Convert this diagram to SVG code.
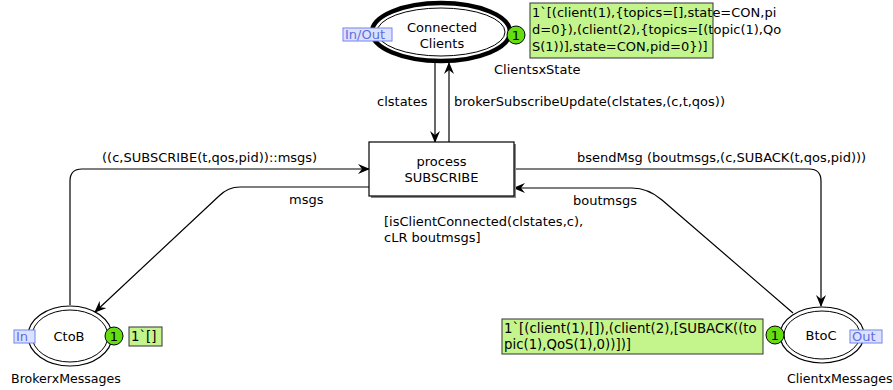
<svg xmlns="http://www.w3.org/2000/svg" width="893" height="390" viewBox="0 0 893 390">
  <defs>
    <marker id="arrow" viewBox="0 0 12 10" refX="11" refY="5" markerWidth="12" markerHeight="10" markerUnits="userSpaceOnUse" orient="auto">
      <path d="M0,0 L12,5 L0,10 L4,5 Z" fill="#000"/>
    </marker>
    <style>
      text { font-family: "DejaVu Sans", Verdana, sans-serif; font-size: 13px; fill: #000; }
      .mid { text-anchor: middle; }
      .mk { font-size: 13px; }
      .mk2 { font-size: 13.3px; }
      .pname { font-size: 12.6px; }
      .arc { fill: none; stroke: #000; stroke-width: 1.2; marker-end: url(#arrow); }
      .place { fill: #fff; stroke: #000; stroke-width: 1.2; }
      .token { fill: #66dd11; stroke: #000; stroke-width: 1; }
      .marking { fill: #c4f58c; stroke: #333; stroke-width: 1; }
      .tag { fill: #dde1ff; stroke: #6f86f0; stroke-width: 1; }
      .tagtext { fill: #5b6fe0; }
    </style>
  </defs>
  <rect width="893" height="390" fill="#fff"/>

  <!-- arcs -->
  <g id="arcs">
    <path class="arc" d="M435,63 L435,142"/>
    <path class="arc" d="M449,142 L449,63"/>
    <path class="arc" d="M70,305 L70,181 Q70,169 82,169 L369,169"/>
    <path class="arc" d="M369,187 L240,187 Q228,187 219,196 L95,312"/>
    <path class="arc" d="M514,169 L809,169 Q821,169 821,181 L821,306"/>
    <path class="arc" d="M793,313 L662,200 Q648,188 632,188 L514,188"/>
    <text x="102" y="162">((c,SUBSCRIBE(t,qos,pid))::msgs)</text>
    <text x="289" y="204">msgs</text>
    <text x="377" y="106">clstates</text>
    <text x="454" y="106">brokerSubscribeUpdate(clstates,(c,t,qos))</text>
    <text x="577" y="162">bsendMsg (boutmsgs,(c,SUBACK(t,qos,pid)))</text>
    <text x="573" y="205">boutmsgs</text>
  </g>

  <!-- transition -->
  <g id="process-subscribe">
    <rect x="371" y="144" width="145" height="54" fill="#888"/>
    <rect x="369" y="142" width="145" height="54" fill="#fff" stroke="#000" stroke-width="1.2"/>
    <text class="mid" x="441.5" y="166">process</text>
    <text class="mid" x="441.5" y="182">SUBSCRIBE</text>
    <text x="384" y="226">[isClientConnected(clstates,c),</text>
    <text x="384" y="242">cLR boutmsgs]</text>
  </g>

  <!-- place: Connected Clients -->
  <g id="connected-clients">
    <ellipse cx="441" cy="32" rx="69" ry="29" fill="#fff" stroke="#000" stroke-width="4.5"/>
    <ellipse cx="441" cy="32" rx="64" ry="24" fill="none" stroke="#000" stroke-width="1"/>
    <text class="mid" x="442" y="32">Connected</text>
    <text class="mid" x="442" y="48">Clients</text>
    <rect class="tag" x="343" y="28" width="49" height="13"/>
    <text class="tagtext" x="345" y="39">In/Out</text>
    <circle class="token" cx="516" cy="35" r="9"/>
    <text class="mid" x="516" y="39.5">1</text>
    <rect class="marking" x="530" y="3" width="183" height="55"/>
    <text class="mk" x="532" y="17">1`[(client(1),{topics=[],state=CON,pi</text>
    <text class="mk" x="532" y="34">d=0}),(client(2),{topics=[(topic(1),Qo</text>
    <text class="mk" x="532" y="51">S(1))],state=CON,pid=0})]</text>
    <text x="494" y="74">ClientsxState</text>
  </g>

  <!-- place: CtoB -->
  <g id="ctob">
    <ellipse class="place" cx="70" cy="336" rx="42" ry="30"/>
    <ellipse cx="70" cy="336" rx="38" ry="26" fill="none" stroke="#000" stroke-width="1"/>
    <text class="mid" x="69" y="341">CtoB</text>
    <rect class="tag" x="14" y="330" width="21" height="13"/>
    <text class="tagtext" x="16" y="341">In</text>
    <circle class="token" cx="114" cy="336" r="9"/>
    <text class="mid" x="114" y="340.5">1</text>
    <rect class="marking" x="129" y="327" width="33" height="19"/>
    <text class="mk2" x="131" y="341">1`[]</text>
    <text class="pname" x="11" y="383">BrokerxMessages</text>
  </g>

  <!-- place: BtoC -->
  <g id="btoc">
    <ellipse class="place" cx="822" cy="335" rx="42" ry="28"/>
    <ellipse cx="822" cy="335" rx="38" ry="24" fill="none" stroke="#000" stroke-width="1"/>
    <text class="mid" x="821" y="340">BtoC</text>
    <rect class="tag" x="850" y="330" width="32" height="13"/>
    <text class="tagtext" x="852" y="341">Out</text>
    <circle class="token" cx="775" cy="335" r="9"/>
    <text class="mid" x="775" y="339.5">1</text>
    <rect class="marking" x="502" y="319" width="261" height="35"/>
    <text class="mk2" x="504" y="333">1`[(client(1),[]),(client(2),[SUBACK((to</text>
    <text class="mk2" x="504" y="349">pic(1),QoS(1),0))])]</text>
    <text class="pname" x="787" y="383">ClientxMessages</text>
  </g>
</svg>
